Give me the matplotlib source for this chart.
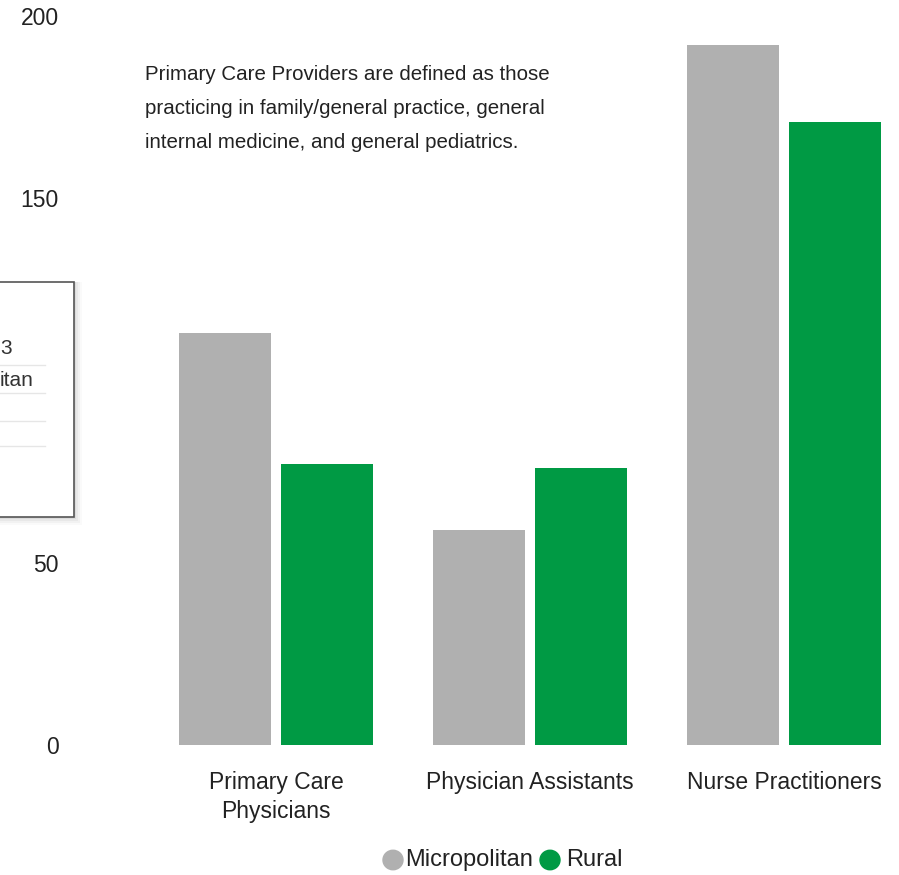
import numpy as np
import matplotlib.pyplot as plt
from matplotlib.patches import Rectangle, Circle

categories = ['Primary Care\nPhysicians', 'Physician Assistants', 'Nurse Practitioners']
micropolitan = [113, 59, 192]
rural = [77, 76, 171]
yticks = [0, 50, 150, 200]  # 100 sits under the tooltip
note_lines = ['Primary Care Providers are defined as those',
              'practicing in family/general practice, general',
              'internal medicine, and general pediatrics.']

GRAY = '#b0b0b0'
GREEN = '#009a44'
TEXT = '#222222'

plt.rcParams['font.family'] = ['Liberation Sans', 'DejaVu Sans']

W, H = 899, 875
fig = plt.figure(figsize=(W / 100, H / 100), dpi=100)


def fx(x):
    return x / W


def fy(y):
    return 1 - y / H


# plot area: value 0 sits at y=745, 200 at y=16, each group 254 px wide
left, right, top, bottom = 149, 899, 16, 745
ax = fig.add_axes([fx(left), fy(bottom), fx(right - left), (bottom - top) / H])
ax.set_xlim(-0.5, -0.5 + (right - left) / 254)
ax.set_ylim(0, 200)

x = np.arange(len(categories))
ax.bar(x - 0.2, micropolitan, width=0.36, color=GRAY)
ax.bar(x + 0.2, rural, width=0.36, color=GREEN)

ax.set_xticks(x)
ax.set_xticklabels(categories, fontsize=16.5, color=TEXT, linespacing=1.3)
ax.set_yticks(yticks)
ax.set_yticklabels([str(v) for v in yticks], fontsize=16.5, color=TEXT)
ax.tick_params(axis='y', length=0, pad=65)
ax.tick_params(axis='x', length=0, pad=19)
for s in ax.spines.values():
    s.set_visible(False)

for i, line in enumerate(note_lines):
    fig.text(fx(145), fy(74 + 34 * i), line, fontsize=14.8, color=TEXT,
             ha='left', va='center')

# legend
fig.patches.append(Circle((fx(393), fy(860)), 10 / W, color=GRAY,
                          transform=fig.transFigure))
fig.text(fx(405), fy(860), 'Micropolitan', fontsize=17, color=TEXT, ha='left', va='center')
fig.patches.append(Circle((fx(550), fy(860)), 10 / W, color=GREEN,
                          transform=fig.transFigure))
fig.text(fx(566), fy(860), 'Rural', fontsize=17, color=TEXT, ha='left', va='center')

# hover tooltip cut off at the left edge
for k, a in enumerate([0.05, 0.04, 0.03, 0.02]):
    d = 2 + 2 * k
    fig.patches.append(Rectangle((fx(-10), fy(517 + d)), fx(84 + d), (235 + d) / H,
                                 transform=fig.transFigure, facecolor='black',
                                 alpha=a, edgecolor='none', zorder=9))
fig.patches.append(Rectangle((fx(-10), fy(517)), fx(84), 235 / H,
                             transform=fig.transFigure, facecolor='white',
                             edgecolor='#555555', linewidth=1.2, zorder=10))
fig.text(fx(0), fy(348), '3', fontsize=15, color='#333333', ha='left', va='center', zorder=11)
fig.text(fx(0), fy(380), 'itan', fontsize=15, color='#333333',
         ha='left', va='center', zorder=11)
for yy in [365, 393, 421, 446]:
    fig.add_artist(plt.Line2D([0, fx(45)], [fy(yy), fy(yy)], transform=fig.transFigure,
                              color='#e6e6e6', linewidth=1, zorder=11))

fig.savefig('out.png', dpi=100)
